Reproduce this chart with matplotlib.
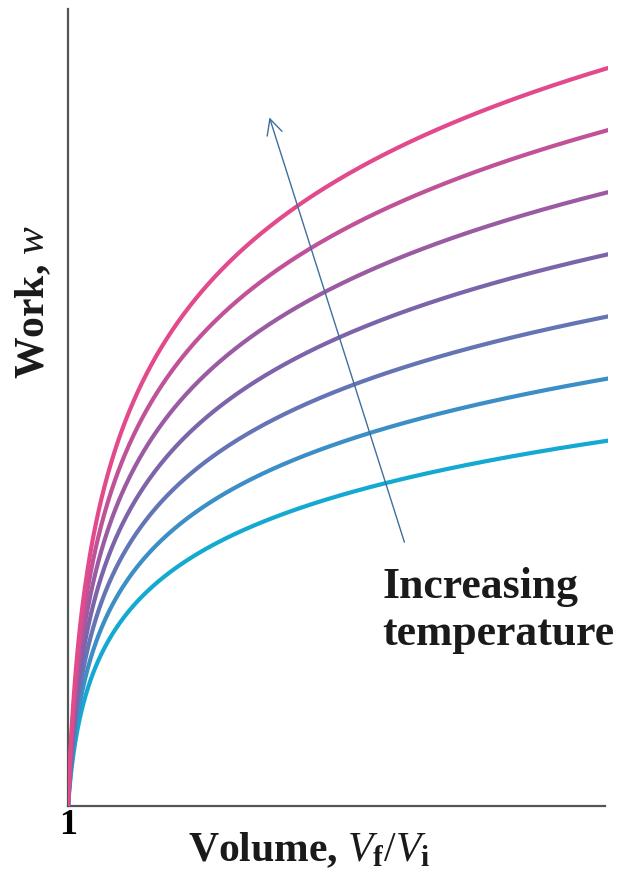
import numpy as np
import matplotlib
matplotlib.use("Agg")
import matplotlib.pyplot as plt

plt.rcParams["mathtext.fontset"] = "custom"
plt.rcParams["mathtext.rm"] = "Liberation Serif"
plt.rcParams["mathtext.it"] = "Liberation Serif:italic"
plt.rcParams["mathtext.bf"] = "Liberation Serif:bold"
plt.rcParams["mathtext.bfit"] = "Liberation Serif:bold:italic"

# Isotherms: w = nRT ln(Vf/Vi) at increasing temperature (K)
temperatures = [300, 351, 402, 453, 504, 555, 606]
colors = ["#14a9d1", "#3b8ec6", "#6474b4", "#7c64aa", "#9a5ba3", "#c05298", "#e24a8b"]
volume_ratio_max = 90
nR = 1.0

W, H = 623, 874
fig = plt.figure(figsize=(W / 100, H / 100), dpi=100)
ax = fig.add_axes([68 / W, 68 / H, 540 / W, 797 / H])

v = np.linspace(1, volume_ratio_max, 600)
for T, c in zip(temperatures, colors):
    ax.plot(v, nR * T * np.log(v), color=c, lw=3.0, solid_capstyle="round", zorder=3)

w_top = nR * temperatures[-1] * np.log(volume_ratio_max)
ax.set_xlim(1, volume_ratio_max)
ax.set_ylim(0, w_top * 797 / 738)

for side in ("top", "right"):
    ax.spines[side].set_visible(False)
for side in ("left", "bottom"):
    ax.spines[side].set_color("#555555")
    ax.spines[side].set_linewidth(1.6)
ax.spines["bottom"].set_bounds(1, 1 + (volume_ratio_max - 1) * 537 / 540)

ax.set_yticks([])
ax.set_xticks([1])
ax.set_xticklabels(["1"], fontfamily="Liberation Serif", fontweight="bold", fontsize=26)
ax.tick_params(axis="x", length=0, pad=2)

serif = dict(fontfamily="Liberation Serif", fontweight="bold", color="#1a1a1a")

fig.text(188 / W, 1 - 861 / H, r"Volume, $\mathit{V}_{\mathbf{f}}/\mathit{V}_{\mathbf{i}}$",
         ha="left", va="baseline", fontsize=30, **serif)
fig.text(33 / W, 1 - 302 / H, r"Work, $\mathit{w}$", rotation=90,
         ha="center", va="center", fontsize=30, **serif)

# Arrow pointing toward higher temperature
ax.annotate("", xy=(0.373, 0.864), xytext=(0.623, 0.331), xycoords="axes fraction",
            arrowprops=dict(arrowstyle="->", color="#3f6f9e", lw=1.0,
                            mutation_scale=28, shrinkA=0, shrinkB=0))

fig.text(382 / W, 1 - 598 / H, "Increasing", ha="left", va="baseline",
         fontsize=31.5, **serif)
fig.text(382 / W, 1 - 645 / H, "temperature", ha="left", va="baseline",
         fontsize=31.5, **serif)

fig.savefig("out.png", dpi=100, facecolor="white")
